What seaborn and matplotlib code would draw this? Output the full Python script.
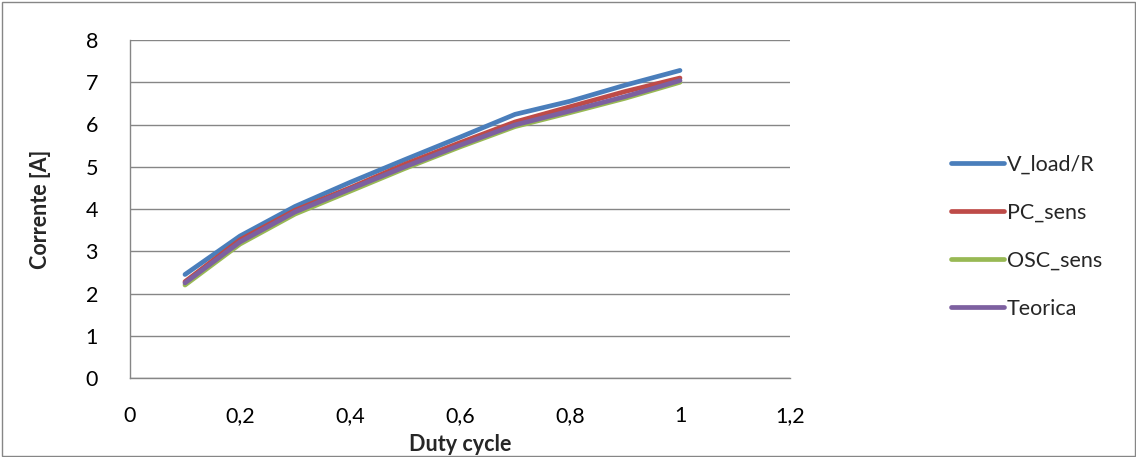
import matplotlib
matplotlib.use("Agg")
import matplotlib.pyplot as plt
import seaborn as sns
import pandas as pd
from matplotlib.lines import Line2D
from matplotlib.patches import Rectangle

duty = [0.1, 0.2, 0.3, 0.4, 0.5, 0.6, 0.7, 0.8, 0.9, 1.0]
v_load_r = [2.45, 3.36, 4.06, 4.63, 5.17, 5.70, 6.24, 6.55, 6.93, 7.28]
pc_sens = [2.28, 3.27, 3.97, 4.50, 5.06, 5.57, 6.06, 6.42, 6.78, 7.10]
osc_sens = [2.20, 3.17, 3.88, 4.42, 4.96, 5.47, 5.95, 6.28, 6.62, 7.00]
teorica = [2.25, 3.22, 3.93, 4.47, 5.00, 5.51, 5.99, 6.32, 6.66, 7.04]

series_names = ["V_load/R", "PC_sens", "OSC_sens", "Teorica"]
colors = ["#4A7EBB", "#BE4B48", "#98B954", "#7D60A0"]

xticks = [0, 0.2, 0.4, 0.6, 0.8, 1.0, 1.2]
xtick_labels = ["0", "0,2", "0,4", "0,6", "0,8", "1", "1,2"]
yticks = [0, 1, 2, 3, 4, 5, 6, 7, 8]

df = pd.DataFrame({
    "Duty cycle": duty * 4,
    "Corrente": v_load_r + pc_sens + osc_sens + teorica,
    "Serie": sum([[n] * len(duty) for n in series_names], []),
})

sns.set_style("white")
plt.rcParams["font.family"] = ["Lato", "DejaVu Sans"]

FS = 15.5
W, H = 1136, 457
fig = plt.figure(figsize=(W / 100, H / 100), dpi=100)
ax = fig.add_axes([130 / W, 1 - 378 / H, 660 / W, 338 / H])

sns.lineplot(data=df, x="Duty cycle", y="Corrente", hue="Serie",
             hue_order=series_names, palette=colors, linewidth=3.4,
             legend=False, ax=ax, solid_capstyle="round",
             solid_joinstyle="round", sort=False)

grid_c = "#868686"
ax.set_xlim(0, 1.2)
ax.set_ylim(0, 8)
ax.set_xticks(xticks)
ax.set_xticklabels(xtick_labels)
ax.set_yticks(yticks)
ax.grid(axis="y", color=grid_c, linewidth=1.0)
ax.set_axisbelow(True)
for s in ["top", "right"]:
    ax.spines[s].set_visible(False)
for s in ["left", "bottom"]:
    ax.spines[s].set_color(grid_c)
    ax.spines[s].set_linewidth(1.0)
ax.tick_params(axis="both", direction="out", length=7, width=1.0,
               color=grid_c, labelsize=FS, labelcolor="black")
ax.tick_params(axis="x", pad=13)
ax.tick_params(axis="y", pad=16)
ax.set_xlabel("Duty cycle", fontsize=FS, fontweight="bold", labelpad=6)
ax.set_ylabel("Corrente [A]", fontsize=FS, fontweight="bold", labelpad=25)

handles = [Line2D([], [], color=c, linewidth=3.4, solid_capstyle="round")
           for c in colors]
fig.legend(handles, series_names, loc="upper left",
           bbox_to_anchor=(942 / W, 1 - 146 / H), frameon=False,
           fontsize=FS, handlelength=2.5, handletextpad=0.1,
           labelspacing=1.3, borderaxespad=0)

fig.patches.append(Rectangle((1.5 / W, 1.5 / H), (W - 3) / W, (H - 3) / H,
                             transform=fig.transFigure, fill=False,
                             edgecolor="#868686", linewidth=1.0))

fig.savefig("out.png", dpi=100)
